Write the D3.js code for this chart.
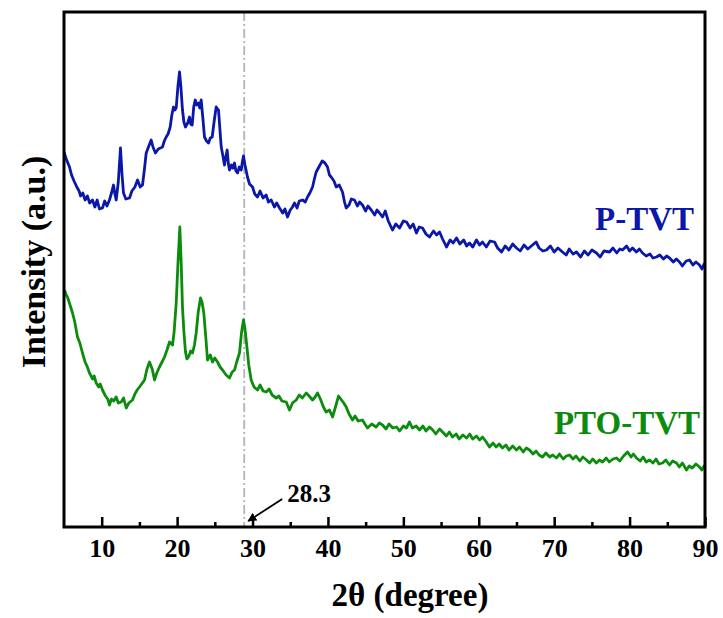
<!DOCTYPE html>
<html><head><meta charset="utf-8">
<script src="https://cdnjs.cloudflare.com/ajax/libs/d3/7.8.5/d3.min.js"></script>
<style>html,body{margin:0;padding:0;background:#fff;}</style>
</head><body>
<script>
// ---- data (2θ in degree, intensity in arbitrary units) ----
const ptvtTheta = [5.0,5.3,5.73,6.0,6.39,6.7,7.0,7.2,7.49,7.8,8.1,8.4,8.78,9.1,9.4,9.7,10.1,10.4,10.7,11.03,11.3,11.56,11.75,11.92,12.2,12.49,12.7,12.89,13.2,13.69,14.0,14.4,14.75,15.1,15.41,15.7,15.9,16.2,16.56,16.8,17.13,17.5,18.06,18.3,18.55,18.8,19.08,19.3,19.52,19.7,19.88,20.1,20.32,20.5,20.71,20.9,21.11,21.4,21.64,21.8,22.0,22.2,22.4,22.6,22.84,23.0,23.19,23.4,23.63,23.9,24.16,24.4,24.65,24.9,25.18,25.35,25.49,25.7,25.85,26.05,26.28,26.45,26.64,26.8,26.95,27.2,27.4,27.61,27.8,28.01,28.25,28.5,28.65,28.8,29.0,29.33,29.6,30.0,30.3,30.66,31.0,31.4,31.81,32.1,32.48,32.9,33.2,33.58,34.0,34.3,34.64,35.0,35.3,35.57,35.9,36.2,36.63,37.0,37.29,37.6,37.96,38.2,38.44,38.8,39.24,39.6,39.94,40.2,40.43,40.8,41.1,41.5,41.93,42.2,42.42,42.8,43.1,43.52,43.9,44.2,44.58,45.0,45.3,45.74,46.2,46.5,46.84,47.24,47.6,48.0,48.56,49.0,49.5,50.0,50.42,50.9,51.3,51.74,52.1,52.54,53.0,53.47,54.0,54.4,54.8,55.2,55.72,56.2,56.6,57.05,57.5,58.0,58.4,58.77,59.2,59.7,60.1,60.5,61.0,61.5,62.09,62.5,63.02,63.5,64.0,64.5,65.0,65.5,66.0,66.5,67.13,67.6,68.0,68.5,68.98,69.5,70.0,70.5,71.1,71.6,72.0,72.5,72.96,73.5,74.0,74.5,75.0,75.61,76.1,76.6,77.34,77.8,78.3,78.7,79.06,79.6,80.0,80.39,80.9,81.3,81.71,82.2,82.7,83.1,83.57,84.0,84.5,84.9,85.3,85.8,86.2,86.62,87.0,87.5,87.95,88.4,88.8,89.27,89.6,89.93];
const ptvtIntensity = [375,368,360,352,345,340,336,331,334,327,331,324,327,320,327,318,319,326,321,327,334,342,333,327,345,379,352,334,328,329,336,340,347,340,342,360,374,380,387,380,374,378,380,386,390,393,400,412,420,417,419,440,455,440,417,405,400,404,410,403,402,420,427,422,424,419,427,410,390,386,384,389,390,405,420,418,417,395,380,372,362,370,377,363,357,362,359,364,356,354,360,357,365,371,362,350,343,340,333,330,336,329,332,325,327,320,324,319,314,318,310,317,320,324,319,326,327,325,330,334,340,348,355,360,366,364,360,352,350,346,340,342,335,325,319,322,328,327,321,325,322,316,321,317,312,317,314,310,316,306,297,303,299,306,305,299,303,294,300,299,293,290,296,292,295,288,280,287,284,289,283,287,281,284,280,287,282,285,280,286,285,279,275,281,277,283,279,276,282,278,282,285,279,276,277,281,275,279,275,272,278,273,275,270,276,272,277,274,270,276,275,279,274,278,277,281,276,279,275,278,274,271,273,269,270,272,268,271,269,265,268,265,261,266,267,262,265,262,258,264];

const ptoTheta = [5.07,5.3,5.46,5.8,6.13,6.4,6.79,7.1,7.45,7.8,8.1,8.38,8.8,9.0,9.27,9.6,9.8,10.1,10.5,10.8,11.03,11.3,11.6,11.92,12.2,12.59,12.9,13.25,13.6,14.08,14.4,14.7,15.01,15.3,15.68,16.0,16.34,16.7,17.0,17.3,17.66,18.0,18.33,18.7,18.99,19.39,19.6,19.88,20.1,20.36,20.55,20.71,20.9,21.11,21.3,21.51,21.8,22.04,22.3,22.53,22.8,23.1,23.3,23.54,23.8,24.03,24.4,24.69,25.0,25.36,25.7,26.02,26.5,26.95,27.3,27.61,27.9,28.27,28.55,28.8,29.0,29.2,29.5,29.82,30.2,30.66,31.0,31.4,31.81,32.2,32.6,33.14,33.5,33.9,34.47,34.9,35.3,35.79,36.2,36.6,37.12,37.5,37.96,38.3,38.62,39.0,39.4,39.77,40.2,40.61,41.0,41.4,41.8,42.1,42.42,42.8,43.26,43.6,44.0,44.58,44.9,45.25,45.8,46.4,46.8,47.24,47.7,48.1,48.6,49.1,49.5,50.0,50.4,50.82,51.2,51.7,52.15,52.6,53.0,53.47,53.9,54.3,54.8,55.2,55.7,56.1,56.52,57.0,57.4,57.9,58.38,58.8,59.2,59.7,60.1,60.5,61.0,61.42,61.9,62.3,62.7,63.15,63.6,64.0,64.5,65.0,65.4,65.9,66.3,66.73,67.2,67.6,68.0,68.45,68.9,69.4,69.8,70.31,70.7,71.2,71.6,72.03,72.5,72.9,73.4,73.8,74.29,74.7,75.1,75.6,76.0,76.41,76.9,77.3,77.8,78.27,78.7,79.2,79.73,80.2,80.5,80.92,81.4,81.8,82.2,82.65,83.1,83.5,83.9,84.37,84.8,85.3,85.7,86.22,86.6,87.0,87.55,87.9,88.3,88.8,89.27,89.6,89.93];
const ptoIntensity = [237,232,230,222,214,206,190,184,174,165,160,154,148,151,144,140,143,137,131,128,122,128,126,130,124,125,129,119,124,127,133,137,140,143,147,158,165,158,147,154,160,165,170,178,185,182,195,224,262,300,262,220,195,175,168,170,176,174,182,194,215,229,225,214,190,167,172,165,169,165,160,157,152,149,155,157,165,174,195,207,198,184,162,147,140,137,142,136,135,138,132,129,131,126,125,117,124,127,132,129,134,131,127,130,134,128,120,115,117,110,120,131,127,124,120,113,107,111,106,107,103,99,103,100,104,102,98,103,99,100,96,101,99,105,99,101,97,101,96,100,97,93,98,95,91,95,90,93,88,92,89,93,88,91,87,90,85,80,84,80,83,79,82,77,81,77,80,75,79,77,73,76,72,70,74,70,72,69,73,68,71,72,68,71,66,70,67,64,68,64,67,65,69,65,68,69,66,71,75,70,73,69,66,70,65,67,64,68,63,64,67,62,66,64,60,64,57,61,59,63,60,57,62];

const seriesNames = ["P-TVT", "PTO-TVT"];
const xTicks = [10,20,30,40,50,60,70,80,90];
const xMinorTicks = [15,25,35,45,55,65,75,85];
const markerTheta = 28.9;
const markerLabel = "28.3";
const xTitle = "2θ (degree)";
const yTitle = "Intensity (a.u.)";

// ---- layout ----
const W = 723, H = 618;
const m = {left: 64, top: 12, right: 705, bottom: 527};
const font = "'Liberation Serif','Times New Roman',serif";
const blue = "#0a17a8", green = "#0c8c0c";

const svg = d3.select("body").append("svg").attr("width", W).attr("height", H)
  .style("font-family", font);

const x = d3.scaleLinear().domain([5, 90]).range([m.left, m.right]);
const y = d3.scaleLinear().domain([0, 515]).range([m.bottom, m.top]);

const g = svg.append("g");

// dash-dot marker line
g.append("line")
  .attr("x1", x(markerTheta)).attr("x2", x(markerTheta))
  .attr("y1", m.top).attr("y2", m.bottom)
  .attr("stroke", "#b4b4b4").attr("stroke-width", 1.8)
  .attr("stroke-dasharray", "9,3,2,3");

const line = d3.line().x(d => x(d[0])).y(d => y(d[1]));
const s1 = ptvtTheta.map((t, i) => [t, ptvtIntensity[i]]);
const s2 = ptoTheta.map((t, i) => [t, ptoIntensity[i]]);

g.append("path").datum(s1).attr("d", line).attr("fill", "none")
  .attr("stroke", blue).attr("stroke-width", 2.8).attr("stroke-linejoin", "round");
g.append("path").datum(s2).attr("d", line).attr("fill", "none")
  .attr("stroke", green).attr("stroke-width", 2.8).attr("stroke-linejoin", "round");

// axes: bottom with inward ticks
const xAxis = d3.axisBottom(x).tickValues(xTicks).tickSize(-10).tickPadding(12)
  .tickFormat(d3.format("d"));
const ax = svg.append("g").attr("transform", `translate(0,${m.bottom})`).call(xAxis);
ax.select(".domain").remove();
ax.selectAll(".tick line").attr("stroke", "#000").attr("stroke-width", 2.5);
ax.selectAll(".tick text").attr("fill", "#000").attr("font-size", 26)
  .attr("font-weight", "bold").attr("font-family", font);

const axMinor = d3.axisBottom(x).tickValues(xMinorTicks).tickSize(-5).tickFormat("");
const am = svg.append("g").attr("transform", `translate(0,${m.bottom})`).call(axMinor);
am.select(".domain").remove();
am.selectAll(".tick line").attr("stroke", "#000").attr("stroke-width", 2.5);

// frame
svg.append("rect").attr("x", m.left).attr("y", m.top)
  .attr("width", m.right - m.left).attr("height", m.bottom - m.top)
  .attr("fill", "none").attr("stroke", "#000").attr("stroke-width", 3);

// marker annotation
const ax0 = x(markerTheta);
svg.append("defs").append("marker").attr("id", "arr")
  .attr("viewBox", "0 0 10 10").attr("refX", 9).attr("refY", 5)
  .attr("markerWidth", 5).attr("markerHeight", 5).attr("orient", "auto")
  .attr("markerUnits", "strokeWidth")
  .append("path").attr("d", "M0,0 L10,5 L0,10 z").attr("fill", "#000");
svg.append("line").attr("x1", ax0 + 38).attr("y1", 499)
  .attr("x2", ax0 + 4).attr("y2", 521)
  .attr("stroke", "#000").attr("stroke-width", 1.8).attr("marker-end", "url(#arr)");
svg.append("text").attr("x", ax0 + 43).attr("y", 502)
  .attr("font-size", 25).attr("font-weight", "bold").attr("fill", "#000")
  .text(markerLabel);

// series labels
svg.append("text").attr("x", 694).attr("y", 230).attr("text-anchor", "end")
  .attr("font-size", 33).attr("font-weight", "bold").attr("fill", blue).text(seriesNames[0]);
svg.append("text").attr("x", 700).attr("y", 434).attr("text-anchor", "end")
  .attr("font-size", 33).attr("font-weight", "bold").attr("fill", green).text(seriesNames[1]);

// axis titles
svg.append("text").attr("x", 410).attr("y", 606).attr("text-anchor", "middle")
  .attr("font-size", 33).attr("font-weight", "bold").attr("fill", "#000").text(xTitle);
svg.append("text").attr("transform", "translate(45,262) rotate(-90)")
  .attr("text-anchor", "middle").attr("font-size", 34).attr("font-weight", "bold")
  .attr("fill", "#000").text(yTitle);
</script>
</body></html>
